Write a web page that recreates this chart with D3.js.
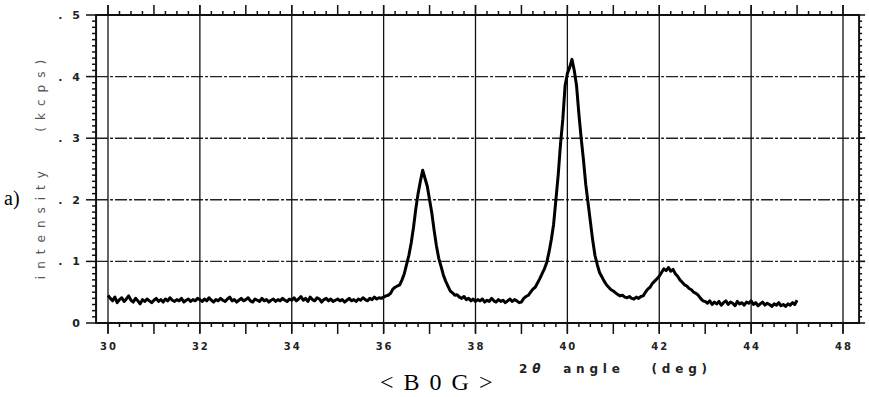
<!DOCTYPE html>
<html>
<head>
<meta charset="utf-8">
<script src="https://cdn.jsdelivr.net/npm/d3@7"></script>
<style>
  html, body { margin: 0; padding: 0; background: #fff; }
  svg { display: block; }
</style>
</head>
<body>
<svg id="chart" width="869" height="397"></svg>
<script>
// ---------- data ----------
const angleStart = 30.0;   // first sample (deg)
const angleStep = 0.05;    // sampling step (deg)
// intensity (kcps), one value per 0.05 deg, 30.00 .. 45.00
const intensity = [
  // 30.00 - 30.95
  0.045,0.040,0.036,0.042,0.033,0.038,0.041,0.035,0.039,0.044,0.037,0.034,0.040,0.036,0.031,0.038,0.035,0.039,0.036,0.033,
  // 31.00 - 31.95
  0.037,0.040,0.035,0.038,0.034,0.039,0.036,0.041,0.037,0.035,0.038,0.036,0.040,0.034,0.037,0.039,0.035,0.038,0.036,0.040,
  // 32.00 - 32.95
  0.038,0.035,0.039,0.036,0.041,0.037,0.034,0.038,0.036,0.040,0.037,0.035,0.039,0.042,0.036,0.038,0.034,0.037,0.040,0.036,
  // 33.00 - 33.95
  0.038,0.041,0.036,0.034,0.039,0.037,0.035,0.040,0.036,0.038,0.034,0.037,0.039,0.035,0.038,0.036,0.040,0.037,0.035,0.039,
  // 34.00 - 34.95
  0.037,0.041,0.036,0.039,0.043,0.037,0.040,0.035,0.042,0.038,0.036,0.041,0.039,0.034,0.038,0.040,0.036,0.039,0.035,0.037,
  // 35.00 - 35.95
  0.039,0.036,0.038,0.034,0.037,0.040,0.036,0.038,0.035,0.039,0.037,0.041,0.038,0.036,0.040,0.038,0.042,0.039,0.041,0.040,
  // 36.00 - 36.95
  0.042,0.044,0.045,0.048,0.055,0.058,0.060,0.062,0.070,0.080,0.095,0.110,0.130,0.155,0.185,0.210,0.230,0.248,0.235,0.222,
  // 37.00 - 37.95
  0.200,0.178,0.150,0.125,0.105,0.092,0.078,0.068,0.060,0.052,0.049,0.045,0.046,0.042,0.040,0.043,0.038,0.040,0.036,0.039,
  // 38.00 - 38.95
  0.035,0.038,0.036,0.039,0.034,0.037,0.035,0.040,0.036,0.034,0.038,0.035,0.037,0.033,0.036,0.039,0.035,0.038,0.036,0.033,
  // 39.00 - 39.95
  0.034,0.040,0.043,0.045,0.050,0.055,0.058,0.065,0.072,0.080,0.088,0.098,0.115,0.135,0.160,0.200,0.240,0.290,0.330,0.385,
  // 40.00 - 40.95
  0.405,0.415,0.428,0.410,0.385,0.340,0.300,0.265,0.225,0.195,0.165,0.135,0.110,0.095,0.082,0.075,0.068,0.062,0.058,0.054,
  // 41.00 - 41.95
  0.052,0.049,0.046,0.044,0.045,0.042,0.041,0.043,0.040,0.039,0.042,0.040,0.043,0.044,0.050,0.055,0.058,0.064,0.068,0.072,
  // 42.00 - 42.95
  0.076,0.082,0.088,0.085,0.090,0.084,0.087,0.080,0.076,0.070,0.066,0.062,0.060,0.056,0.054,0.050,0.048,0.045,0.040,0.036,
  // 43.00 - 43.95
  0.035,0.032,0.036,0.030,0.034,0.031,0.035,0.029,0.033,0.036,0.030,0.034,0.032,0.028,0.035,0.031,0.033,0.029,0.034,0.032,
  // 44.00 - 44.95
  0.036,0.030,0.033,0.028,0.031,0.034,0.029,0.032,0.030,0.027,0.031,0.029,0.033,0.028,0.030,0.027,0.031,0.029,0.033,0.030,
  // 45.00
  0.037
];
const xTickValues = [30, 32, 34, 36, 38, 40, 42, 44, 46];
const xTickLabels = ["30", "32", "34", "36", "38", "40", "42", "44", "48"];
const yTickValues = [0, 0.1, 0.2, 0.3, 0.4, 0.5];
const yTickLabels = ["0", ". 1", ". 2", ". 3", ". 4", ". 5"];
const xFrame = [29.74, 46.35];

const points = intensity.map((v, i) => ({ x: angleStart + i * angleStep, y: v }));

// ---------- scales ----------
const svg = d3.select("#chart");
const x = d3.scaleLinear().domain([30, 46]).range([108, 843]);
const y = d3.scaleLinear().domain([0, 0.5]).range([323, 15]);
const L = x(xFrame[0]), R = x(xFrame[1]), T = y(0.5), B = y(0);
const ink = "#111";

// horizontal grid (dashed)
svg.append("g").selectAll("line").data(yTickValues.filter(v => v > 0 && v < 0.5)).join("line")
  .attr("x1", L).attr("x2", R + 6)
  .attr("y1", d => y(d)).attr("y2", d => y(d))
  .attr("stroke", "#222").attr("stroke-width", 1.4).attr("stroke-dasharray", "12,2,3,2");

// vertical grid
svg.append("g").selectAll("line").data(xTickValues).join("line")
  .attr("x1", d => x(d)).attr("x2", d => x(d))
  .attr("y1", T - 10).attr("y2", B + 10)
  .attr("stroke", ink).attr("stroke-width", 1.3);

// minor x ticks (every 0.25 deg), bottom & top
const xMinor = d3.range(120, 185).map(k => k * 0.25).filter(v => v >= xFrame[0] && v <= xFrame[1]);
const xTicksG = svg.append("g");
xTicksG.selectAll("line.b").data(xMinor).join("line").attr("class", "b")
  .attr("x1", d => x(d)).attr("x2", d => x(d))
  .attr("y1", B).attr("y2", d => B + (Number.isInteger(d) ? 11 : 4))
  .attr("stroke", ink).attr("stroke-width", 1.5);
xTicksG.selectAll("line.t").data(xMinor).join("line").attr("class", "t")
  .attr("x1", d => x(d)).attr("x2", d => x(d))
  .attr("y1", T).attr("y2", d => T - (Number.isInteger(d) ? 10 : 4))
  .attr("stroke", ink).attr("stroke-width", 1.5);

// minor y ticks (every 0.01), left & right
const yMinor = d3.range(0, 51).map(k => k / 100);
const yTicksG = svg.append("g");
yTicksG.selectAll("line.l").data(yMinor).join("line").attr("class", "l")
  .attr("x1", L).attr("x2", (d, i) => L - (i % 10 === 0 ? 10 : 4))
  .attr("y1", d => y(d)).attr("y2", d => y(d))
  .attr("stroke", ink).attr("stroke-width", 1.5);
yTicksG.selectAll("line.r").data(yMinor).join("line").attr("class", "r")
  .attr("x1", R).attr("x2", (d, i) => R + (i % 10 === 0 ? 6 : 3))
  .attr("y1", d => y(d)).attr("y2", d => y(d))
  .attr("stroke", ink).attr("stroke-width", 1.5);

// frame
svg.append("rect").attr("x", L).attr("y", T).attr("width", R - L).attr("height", B - T)
  .attr("fill", "none").attr("stroke", ink).attr("stroke-width", 2);

// tick labels
svg.append("g").selectAll("text").data(xTickValues).join("text")
  .attr("x", d => x(d) + 1).attr("y", 350)
  .attr("text-anchor", "middle")
  .attr("font-family", "DejaVu Sans").attr("font-size", 10).attr("font-weight", "bold")
  .attr("letter-spacing", 2).attr("fill", "#222")
  .text((d, i) => xTickLabels[i]);

svg.append("g").selectAll("text").data(yTickValues).join("text")
  .attr("x", 83).attr("y", d => y(d) + 4)
  .attr("text-anchor", "end")
  .attr("font-family", "DejaVu Sans").attr("font-size", 11).attr("font-weight", "bold")
  .attr("letter-spacing", 3).attr("fill", "#222")
  .attr("xml:space", "preserve")
  .text((d, i) => yTickLabels[i]);

// data trace
const line = d3.line().x(d => x(d.x)).y(d => y(d.y));
svg.append("path").datum(points)
  .attr("d", line).attr("fill", "none")
  .attr("stroke", "#000").attr("stroke-width", 3).attr("stroke-linejoin", "round");

// axis titles
svg.append("text")
  .attr("transform", "translate(45,166) rotate(-90)")
  .attr("text-anchor", "middle")
  .attr("font-family", "DejaVu Sans").attr("font-size", 12)
  .attr("letter-spacing", 7).attr("fill", "#555")
  .attr("xml:space", "preserve")
  .text("intensity   (kcps)");

const xt = svg.append("text")
  .attr("x", 519).attr("y", 373)
  .attr("font-family", "DejaVu Sans").attr("font-size", 12).attr("font-weight", "bold")
  .attr("letter-spacing", 4.8).attr("fill", "#222")
  .attr("xml:space", "preserve");
xt.append("tspan").text("2");
xt.append("tspan").attr("font-style", "italic").text("θ ");
xt.append("tspan").text(" angle   (deg)");

svg.append("text")
  .attr("x", 4).attr("y", 205)
  .attr("font-family", "Liberation Serif").attr("font-size", 20).attr("fill", "#000")
  .text("a)");

svg.append("text")
  .attr("x", 380).attr("y", 390)
  .attr("font-family", "Liberation Serif").attr("font-size", 24).attr("fill", "#000")
  .attr("letter-spacing", 2).attr("xml:space", "preserve")
  .text("< B 0 G >");
</script>
</body>
</html>
